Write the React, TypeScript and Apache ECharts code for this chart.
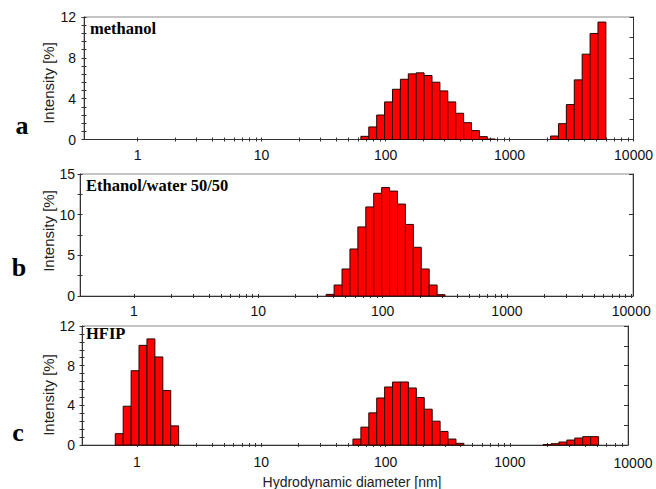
import React, { useEffect, useRef } from "react";
import * as echarts from "echarts";

// ---- data ----
const xTickLabels = ["1", "10", "100", "1000", "10000"];
const decadeStarts = [1, 10, 100, 1000];
const minorMultipliers = [1, 2, 3, 4, 5, 6, 7, 8, 9];
const binRatio = 1.1581; // ratio between consecutive size classes

const methanolSizes = [68.06, 78.82, 91.28, 105.7, 122.4, 141.8, 164.2, 190.1, 220.2, 255.0, 295.3, 342.0, 396.1, 458.7, 531.2, 615.1, 712.4, 2305, 2669, 3091, 3580, 4145, 4801, 5560];
const methanolIntensity = [0.31, 1.23, 2.4, 3.68, 4.92, 5.9, 6.43, 6.53, 6.27, 5.61, 4.76, 3.68, 2.57, 1.65, 0.87, 0.28, 0.05, 0.34, 1.55, 3.42, 5.84, 8.36, 10.38, 11.5];

const ethanolSizes = [37.84, 43.82, 50.75, 58.77, 68.06, 78.82, 91.28, 105.7, 122.4, 141.8, 164.2, 190.1, 220.2, 255.0, 295.3];
const ethanolIntensity = [0.2, 1.35, 3.32, 5.78, 8.49, 10.95, 12.63, 13.33, 12.9, 11.3, 8.8, 5.99, 3.32, 1.35, 0.16];

const hfipSizes = [0.7195, 0.8332, 0.9649, 1.117, 1.294, 1.499, 1.736, 2.01, 58.77, 68.06, 78.82, 91.28, 105.7, 122.4, 141.8, 164.2, 190.1, 220.2, 255.0, 295.3, 342.0, 396.1, 1990, 2305, 2669, 3091, 3580, 4145, 4801];
const hfipIntensity = [1.14, 3.91, 7.49, 10.05, 10.7, 8.88, 5.5, 1.93, 0.6, 1.8, 3.24, 4.74, 5.85, 6.35, 6.35, 5.75, 4.78, 3.61, 2.4, 1.37, 0.6, 0.17, 0.05, 0.13, 0.3, 0.5, 0.7, 0.84, 0.84];

const panelTitles = ["methanol", "Ethanol/water 50/50", "HFIP"];
const panelLetters = ["a", "b", "c"];
const yMax = [12, 15, 12];
const yLabelStep = [4, 5, 4];
const yRightStep = [2, 5, 2];
const yMinorSplit = [5, 2, 5];

// ---- layout ----
const grids = [
  { left: 84, top: 17, width: 551, height: 122.5, xMin: -0.432, xMax: 4.0, labelMargin: 8, yLabelMargin: 8 },
  { left: 80, top: 174, width: 553, height: 122, xMin: -0.434, xMax: 4.014, labelMargin: 8, yLabelMargin: 5 },
  { left: 82, top: 326, width: 546, height: 119, xMin: -0.4425, xMax: 3.95, labelMargin: 10, yLabelMargin: 7 },
];
const letterPos = [
  [22, 125],
  [19, 267],
  [18, 432],
];
const titlePos = [
  [90, 28],
  [86, 185],
  [86, 333],
];
const yNamePos = [
  [48, 83],
  [48, 231],
  [48, 395],
];
// tick label of the last decade in panel c sits beyond its axis end
const detachedLabelPos = [633, 463];

const SANS = "Arial, 'Liberation Sans', sans-serif";
const SERIF = "'Times New Roman', 'Liberation Serif', serif";
const AXIS = "#333";

export default function App() {
  const ref = useRef<HTMLDivElement>(null);

  useEffect(() => {
    if (!ref.current) return;
    const chart = echarts.init(ref.current, undefined, { renderer: "svg" });

    const tickLogs: number[] = [];
    decadeStarts.forEach((d) => minorMultipliers.forEach((m) => tickLogs.push(Math.log10(d * m))));
    tickLogs.push(4);
    const labelLogs = xTickLabels.map((_, i) => i);
    const halfW = Math.log10(binRatio) / 2;

    const datasets = [
      methanolSizes.map((d, i) => [Math.log10(d), methanolIntensity[i]]),
      ethanolSizes.map((d, i) => [Math.log10(d), ethanolIntensity[i]]),
      hfipSizes.map((d, i) => [Math.log10(d), hfipIntensity[i]]),
    ];

    const xAxes: any[] = [];
    const yAxes: any[] = [];
    const series: any[] = [];
    const graphics: any[] = [];

    grids.forEach((g, i) => {
      const ticks = tickLogs.filter((v) => v >= g.xMin && v <= g.xMax + 1e-9);
      const labels = labelLogs.filter((v) => v >= g.xMin && v <= g.xMax + 1e-9);
      // main x axis (inside ticks + labels)
      xAxes.push({
        type: "value",
        gridIndex: i,
        position: "bottom",
        min: g.xMin,
        max: g.xMax,
        splitLine: { show: false },
        axisLine: { show: true, onZero: false, lineStyle: { color: AXIS, width: 1 } },
        axisTick: { show: true, inside: true, length: 2, customValues: ticks, lineStyle: { color: AXIS } },
        axisLabel: {
          show: true,
          customValues: labels,
          margin: g.labelMargin,
          fontFamily: SANS,
          fontSize: 14,
          color: "#111",
          formatter: (v: number) => xTickLabels[Math.round(v)] ?? "",
        },
      });
      // companion x axis: outside half of the crossing ticks
      xAxes.push({
        type: "value",
        gridIndex: i,
        position: "bottom",
        min: g.xMin,
        max: g.xMax,
        splitLine: { show: false },
        axisLine: { show: false, onZero: false },
        axisTick: { show: true, inside: false, length: 2, customValues: ticks, lineStyle: { color: AXIS } },
        axisLabel: { show: false },
      });
      // left y axis (inside ticks + labels)
      yAxes.push({
        type: "value",
        gridIndex: i,
        position: "left",
        min: 0,
        max: yMax[i],
        interval: yLabelStep[i],
        splitLine: { show: false },
        axisLine: { show: true, onZero: false, lineStyle: { color: AXIS } },
        axisTick: { show: true, inside: true, length: 2.5, lineStyle: { color: AXIS } },
        minorTick: { show: true, splitNumber: yMinorSplit[i], length: 2.5, lineStyle: { color: AXIS } },
        axisLabel: { fontFamily: SANS, fontSize: 14, color: "#111", margin: g.yLabelMargin },
      });
      // left companion: outside half of the crossing ticks
      yAxes.push({
        type: "value",
        gridIndex: i,
        position: "left",
        min: 0,
        max: yMax[i],
        interval: yLabelStep[i],
        splitLine: { show: false },
        axisLine: { show: false, onZero: false },
        axisTick: { show: true, inside: false, length: 2.5, lineStyle: { color: AXIS } },
        minorTick: { show: true, splitNumber: yMinorSplit[i], length: 2.5, lineStyle: { color: AXIS } },
        axisLabel: { show: false },
      });
      // right y axis
      yAxes.push({
        type: "value",
        gridIndex: i,
        position: "right",
        min: 0,
        max: yMax[i],
        interval: yRightStep[i],
        splitLine: { show: false },
        axisLine: { show: true, onZero: false, lineStyle: { color: AXIS } },
        axisTick: { show: true, inside: true, length: 4, lineStyle: { color: AXIS } },
        axisLabel: { show: false },
      });
      series.push({
        type: "custom",
        xAxisIndex: i * 2,
        yAxisIndex: i * 3,
        data: datasets[i],
        encode: { x: 0, y: 1 },
        renderItem: (params: any, api: any) => {
          const x = api.value(0);
          const y = api.value(1);
          const p0 = api.coord([x - halfW, y]);
          const p1 = api.coord([x + halfW, 0]);
          return {
            type: "rect",
            shape: { x: p0[0], y: p0[1], width: p1[0] - p0[0], height: p1[1] - p0[1] },
            style: { fill: "#ff0000", stroke: "#2a0000", lineWidth: 1 },
          };
        },
      });
      graphics.push({
        type: "text",
        x: letterPos[i][0],
        y: letterPos[i][1],
        style: {
          text: panelLetters[i],
          font: `bold 26px ${SERIF}`,
          fill: "#000",
          textAlign: "center",
          textVerticalAlign: "middle",
        },
      });
      graphics.push({
        type: "text",
        x: titlePos[i][0],
        y: titlePos[i][1],
        style: {
          text: panelTitles[i],
          font: `bold 16.5px ${SERIF}`,
          fill: "#000",
          textAlign: "left",
          textVerticalAlign: "middle",
        },
      });
      graphics.push({
        type: "text",
        x: yNamePos[i][0],
        y: yNamePos[i][1],
        rotation: Math.PI / 2,
        style: {
          text: "Intensity [%]",
          font: `15px ${SANS}`,
          fill: "#222",
          textAlign: "center",
          textVerticalAlign: "middle",
        },
      });
    });

    graphics.push({
      type: "text",
      x: detachedLabelPos[0],
      y: detachedLabelPos[1],
      style: {
        text: xTickLabels[4],
        font: `14px ${SANS}`,
        fill: "#111",
        textAlign: "center",
        textVerticalAlign: "middle",
      },
    });
    graphics.push({
      type: "text",
      x: 352,
      y: 482,
      style: {
        text: "Hydrodynamic diameter [nm]",
        font: `14px ${SANS}`,
        fill: "#222",
        textAlign: "center",
        textVerticalAlign: "middle",
      },
    });

    chart.setOption({
      animation: false,
      backgroundColor: "#fff",
      grid: grids.map((g) => ({
        left: g.left,
        top: g.top,
        width: g.width,
        height: g.height,
        show: true,
        borderColor: "#8a8a8a",
        borderWidth: 1,
        backgroundColor: "transparent",
      })),
      xAxis: xAxes,
      yAxis: yAxes,
      series,
      graphic: graphics,
    });

    return () => chart.dispose();
  }, []);

  return (
    <div
      ref={ref}
      style={{ position: "fixed", left: 0, top: 0, width: 656, height: 489, background: "#fff" }}
    />
  );
}
